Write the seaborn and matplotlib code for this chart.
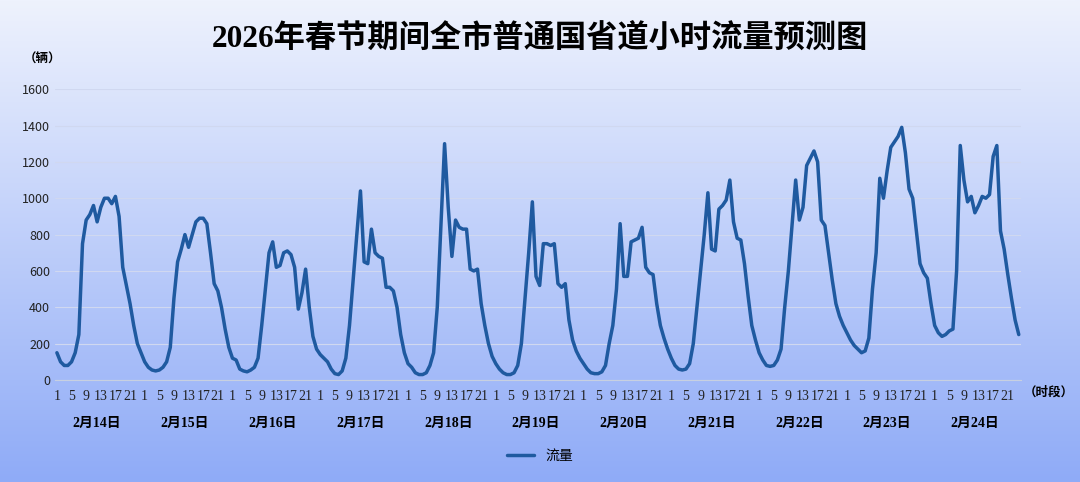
import numpy as np
import pandas as pd
import seaborn as sns
import matplotlib.pyplot as plt
from matplotlib.colors import LinearSegmentedColormap

# ------------------------------
# Data: hourly flow per day (hours 1..24)
# ------------------------------
days = ["2月14日", "2月15日", "2月16日", "2月17日", "2月18日", "2月19日",
        "2月20日", "2月21日", "2月22日", "2月23日", "2月24日"]
d14 = [150, 100, 80, 80, 100, 150, 250, 750, 880, 910, 960, 870, 950, 1000, 1000, 970, 1010, 900, 620, 520, 420, 300, 200, 150]
d15 = [100, 70, 55, 50, 55, 70, 100, 180, 450, 650, 720, 800, 730, 800, 870, 890, 890, 860, 700, 530, 490, 400, 280, 180]
d16 = [120, 110, 60, 50, 45, 55, 70, 120, 300, 500, 700, 760, 620, 630, 700, 710, 690, 620, 390, 480, 610, 400, 240, 170]
d17 = [140, 120, 100, 60, 35, 30, 50, 120, 300, 550, 800, 1040, 650, 640, 830, 700, 680, 670, 510, 510, 490, 400, 250, 150]
d18 = [90, 70, 40, 30, 30, 40, 80, 150, 400, 850, 1300, 950, 680, 880, 840, 830, 830, 610, 600, 610, 420, 300, 200, 130]
d19 = [90, 60, 40, 30, 30, 40, 80, 200, 450, 700, 980, 570, 520, 750, 750, 740, 750, 530, 510, 530, 330, 220, 160, 120]
d20 = [90, 60, 40, 35, 35, 45, 80, 200, 300, 500, 860, 570, 570, 760, 770, 780, 840, 620, 590, 580, 420, 300, 230, 170]
d21 = [120, 80, 60, 55, 60, 90, 200, 400, 600, 800, 1030, 720, 710, 940, 960, 990, 1100, 870, 780, 770, 640, 460, 300, 220]
d22 = [150, 110, 80, 75, 80, 110, 170, 400, 600, 850, 1100, 880, 950, 1180, 1220, 1260, 1200, 880, 850, 700, 550, 420, 350, 300]
d23 = [260, 220, 190, 170, 150, 160, 230, 500, 700, 1110, 1000, 1150, 1280, 1310, 1340, 1390, 1250, 1050, 1000, 820, 640, 590, 560, 420]
d24 = [300, 260, 240, 250, 270, 280, 600, 1290, 1100, 980, 1010, 920, 960, 1010, 1000, 1020, 1230, 1290, 820, 720, 580, 450, 330, 250]

flow = d14 + d15 + d16 + d17 + d18 + d19 + d20 + d21 + d22 + d23 + d24
hours = list(range(1, 25)) * len(days)
df = pd.DataFrame({"idx": range(len(flow)), "流量": flow, "hour": hours})

sns.set_style("white")
plt.rcParams['font.family'] = ['Noto Sans CJK SC', 'DejaVu Sans']
plt.rcParams['text.color'] = 'black'

fig = plt.figure(figsize=(10.8, 4.82), dpi=100)

# background gradient
bg = fig.add_axes([0, 0, 1, 1], zorder=-1)
grad = np.linspace(0, 1, 256).reshape(-1, 1)
cmap = LinearSegmentedColormap.from_list("bg", ["#eef2fd", "#8fabf7"])
bg.imshow(grad, aspect="auto", cmap=cmap, extent=[0, 1, 0, 1])
bg.axis("off")

ax = fig.add_axes([0.051, 0.2116, 0.894, 0.6034])
ax.patch.set_alpha(0)
sns.lineplot(data=df, x="idx", y="流量", ax=ax, color="#1f5aa0", linewidth=2.5,
             label="流量", legend=False)
ax.set_xlim(-0.5, len(flow) - 0.5)
ax.set_ylim(0, 1600)
ax.set_yticks(range(0, 1601, 200))
ax.tick_params(axis="y", labelsize=9, length=0, colors="#222222")
ax.grid(axis="y", color="#d0d8f0", linewidth=0.8)
for s in ["top", "right", "left"]:
    ax.spines[s].set_visible(False)
ax.spines["bottom"].set_color("#c8d0e0")
ax.set_xticks(df["idx"])
ax.set_xticklabels([str(h) if h % 4 == 1 else "" for h in hours],
                   family=["Liberation Serif"], fontsize=10)
ax.tick_params(axis="x", length=3, color="#c8d0e0", pad=4, colors="#222222")
ax.set_xlabel("")
ax.set_ylabel("")

for i, d in enumerate(days):
    ax.text(i * 24 + 11, -0.15, d, transform=ax.get_xaxis_transform(),
            ha="center", va="center", fontsize=10, fontweight="bold",
            family=["Liberation Serif", "Noto Sans CJK SC"])

fig.text(0.5, 0.92, "2026年春节期间全市普通国省道小时流量预测图", ha="center", va="center",
         fontsize=22.5, fontweight="bold", color="black",
         family=["Liberation Serif", "Noto Sans CJK SC"])
fig.text(0.022, 0.87, "（辆）", fontsize=9, fontweight="bold")
fig.text(0.948, 0.18, "（时段）", fontsize=9, fontweight="bold")

h, l = ax.get_legend_handles_labels()
fig.legend(h, l, loc="center", bbox_to_anchor=(0.5, 0.055), frameon=False, fontsize=10)

fig.savefig("out.png", dpi=100)
